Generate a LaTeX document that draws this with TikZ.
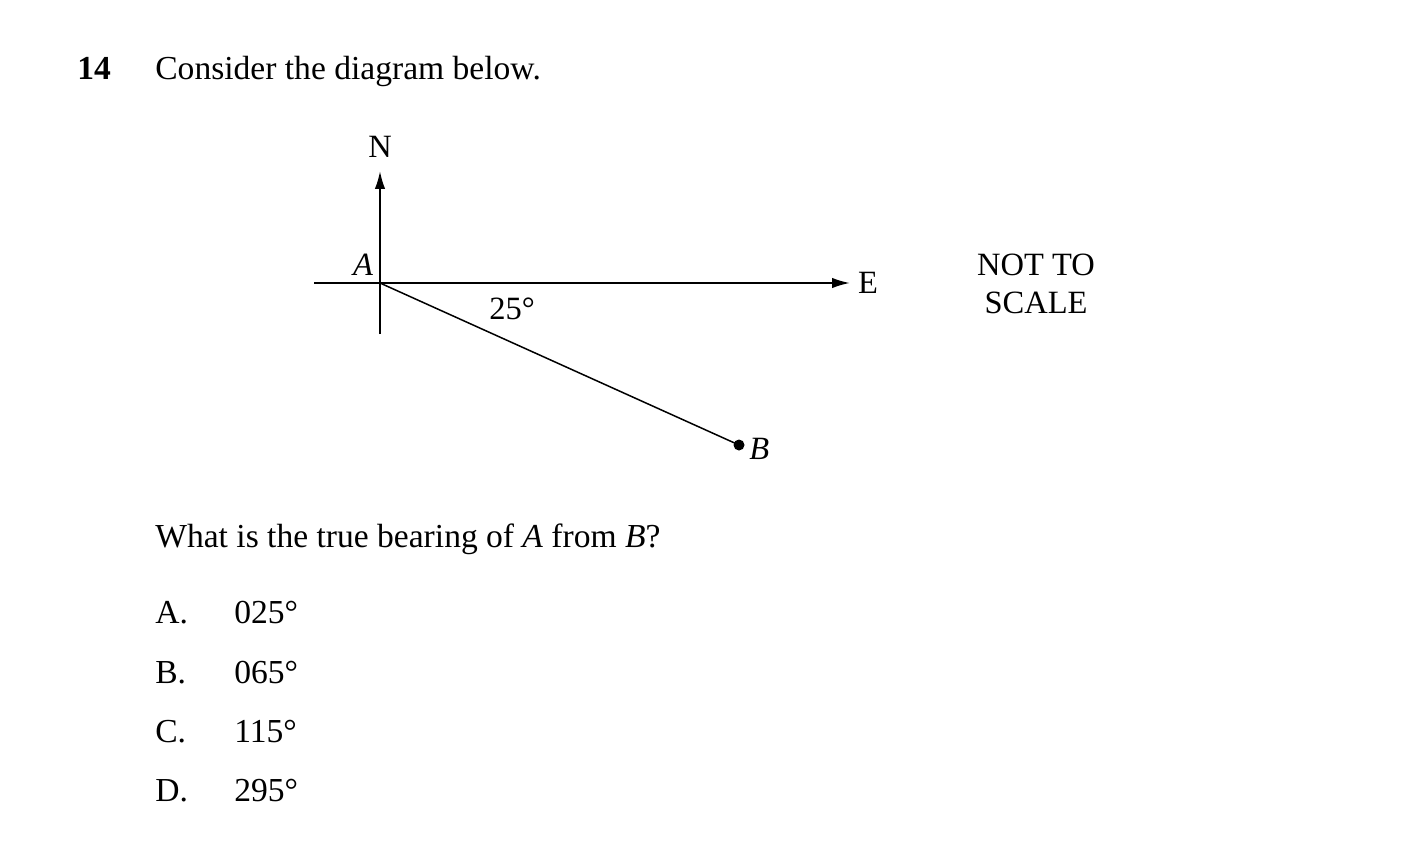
\documentclass[tikz,border=0pt]{standalone}
\usepackage{fontspec}
\setmainfont{Liberation Serif}
\usetikzlibrary{arrows.meta,calc}

\begin{document}
\begin{tikzpicture}[x=0.02cm,y=-0.02cm,
  every node/.style={inner sep=0pt},
  txt/.style={anchor=base west,font=\fontsize{19.1}{22}\selectfont},
  lbl/.style={font=\fontsize{18.5}{21.6}\selectfont},
  arr/.style={line width=0.4mm,-{Latex[length=3.6mm,width=2.1mm]}}]
\useasboundingbox (0,0) rectangle (1413,848);
\node[txt,font=\fontsize{19.1}{22}\selectfont\bfseries] (num) at (77,80) {14};
\node[txt] (intro) at (155,80) {Consider the diagram below.};
\coordinate (A) at (380,283);
\coordinate (B) at (739,445);
\coordinate (S) at (380,334);
\coordinate (Ntip) at (380,171);
\coordinate (W) at (314,283);
\coordinate (Etip) at (850,283);
\draw[arr] (S) -- (Ntip);
\draw[arr] (W) -- (Etip);
\draw[line width=0.3mm] (A) -- (B);
\fill (B) circle (5.5);
\node[lbl] (N) at (380,147) {N};
\node[lbl] (E) at (868,283) {E};
\node[lbl,anchor=base] (Alab) at (363,275) {\textit{A}};
\node[lbl,anchor=base west] (Blab) at (749,459) {\textit{B}};
\node[lbl] (ang) at (512,309) {25°};
\node[lbl,align=center] (note) at (1036,284) {NOT TO\\SCALE};
\node[txt] (ques) at (155,547) {What is the true bearing of \textit{A} from \textit{B}?};
\foreach \ltr/\val/\yy [count=\i] in {A./025/623, B./065/683, C./115/742, D./295/801}
{
\node[txt] (opt\i) at (155,\yy) {\ltr};
\node[txt] (val\i) at (234,\yy) {\val°};
}
\end{tikzpicture}
\end{document}
